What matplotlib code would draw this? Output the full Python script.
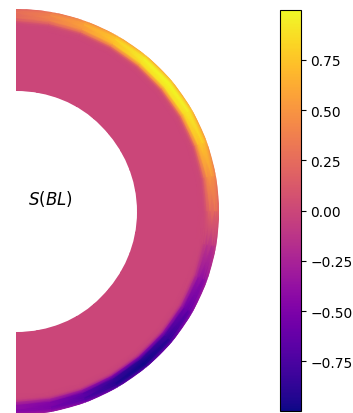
import numpy as np
import matplotlib
matplotlib.use("Agg")
import matplotlib.pyplot as plt
from matplotlib.patches import Wedge

# colatitude (deg) and BL amplitude just below the outer boundary
colat = [0, 10, 20, 30, 40, 50, 60, 70, 80, 90,
         100, 110, 120, 130, 140, 150, 160, 170, 180]
surf = [0.25, 0.4, 0.58, 0.78, 0.96, 0.998, 0.94, 0.78, 0.5, 0.25,
        -0.12, -0.4, -0.62, -0.87, -0.995, -0.92, -0.7, -0.52, -0.42]

# radius (outer = 1) and radial shape of the boundary layer
rad = [0.595, 0.901, 0.921, 0.931, 0.941, 0.956, 0.980, 0.990, 1.004]
shape = [0.0, 0.0, 0.03, 0.15, 0.5, 0.9, 1.0, 0.95, 0.6]

th = np.radians(colat)
R, TH = np.meshgrid(rad, th)
X = R * np.sin(TH)
Y = R * np.cos(TH)
S = np.outer(surf, shape)

fig = plt.figure(figsize=(3.53, 4.14), dpi=100)
ax = fig.add_axes([16/353, -1.5/414, 203/353, 406/414])
pc = ax.pcolormesh(X, Y, S, cmap="plasma", shading="gouraud")
# smooth shell outline
shell = Wedge((0, 0), 1.0, -90, 90, width=0.405, transform=ax.transData)
pc.set_clip_path(shell)
ax.set_xlim(0, 1)
ax.set_ylim(-1, 1)
ax.set_aspect("equal")
ax.axis("off")
ax.text(0.17, 0.066, r"$S(BL)$", fontsize=12, ha="center", va="center")

cax = fig.add_axes([280/353, 2.3/414, 20.5/353, 400.7/414])
cb = fig.colorbar(pc, cax=cax)
cb.set_ticks([-0.75, -0.5, -0.25, 0, 0.25, 0.5, 0.75])
cb.ax.tick_params(labelsize=10)

fig.savefig("out.png", dpi=100)
